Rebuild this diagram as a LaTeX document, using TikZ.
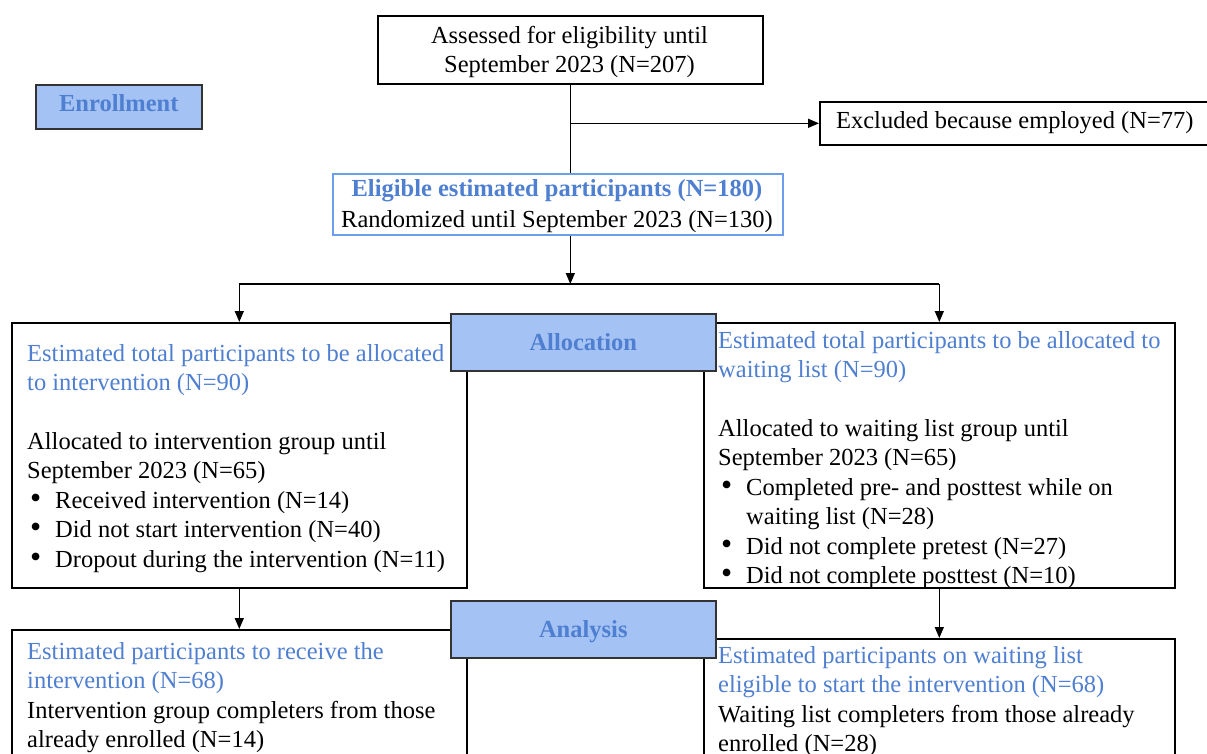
\documentclass[tikz,border=0pt]{standalone}
\usepackage{fontspec}
\setmainfont{Liberation Serif}
\usetikzlibrary{arrows.meta}
\definecolor{txtblue}{HTML}{4F7FD0}
\definecolor{fillblue}{HTML}{A4C2F4}
\definecolor{edgeblue}{HTML}{6D9EEB}
\tikzset{
  box/.style={draw=black, line width=1.6pt, inner sep=0pt, anchor=north west, fill=white},
  bluebox/.style={box, draw=edgeblue},
  labelbox/.style={draw=black!80, line width=1.6pt, inner sep=0pt, anchor=north west, fill=fillblue},
  txt/.style={inner sep=0pt, anchor=north west, align=left, font=\fontsize{24.5}{29.4}\selectfont},
  ctxt/.style={inner sep=0pt, align=center, font=\fontsize{24.5}{29}\selectfont},
  head/.style={inner sep=0pt, font=\fontsize{24.5}{29}\selectfont\bfseries, text=txtblue},
  conn/.style={line width=1.4pt},
  arr/.style={conn, -{Triangle[length=11pt,width=9pt]}}
}
\newcommand{\bul}{\hspace*{3pt}\makebox[25pt][l]{\scalebox{1.3}{\textbullet}}}
\begin{document}
\begin{tikzpicture}[x=1pt,y=-1pt]
\clip (0,0) rectangle (1207,753);
\fill[white] (0,0) rectangle (1207,753);
% enrollment
\node[box, minimum width=385, minimum height=68] (assess) at (377,15) {};
\node[ctxt] (assesst) at (569.5,52) {Assessed for eligibility until\\September 2023 (N=207)};
\node[labelbox, minimum width=166, minimum height=44] (enroll) at (35,84) {};
\node[head] (enrollt) at ([yshift=4pt]enroll.center) {Enrollment};
\node[box, minimum width=390, minimum height=43] (excl) at (819,101) {};
\node[ctxt] (exclt) at ([yshift=1]excl.center) {Excluded because employed (N=77)};
\node[bluebox, minimum width=450, minimum height=61] (elig) at (332,173) {};
\node[ctxt] (eligt) at (557,206) {\textbf{\textcolor{txtblue}{Eligible estimated participants (N=180)}}\\[2pt]Randomized until September 2023 (N=130)};
\coordinate (branch) at (assess.south |- excl.west);
\draw[conn] (assess.south) -- (assess.south |- elig.north);
\draw[arr] (branch) -- (excl.west);
% allocation
\node[box, minimum width=455, minimum height=265] (lalloc) at (11,322) {};
\node[box, minimum width=471, minimum height=265] (ralloc) at (703,322) {};
\coordinate (split) at (assess.south |- 0,284);
\draw[arr] (assess.south |- elig.south) -- (split);
\draw[conn] (lalloc.north |- split) -- (ralloc.north |- split);
\draw[arr] (lalloc.north |- split) -- (lalloc.north);
\draw[arr] (ralloc.north |- split) -- (ralloc.north);
\node[txt] (lalloct) at (27,344) {\textcolor{txtblue}{Estimated total participants to be allocated}\\\textcolor{txtblue}{to intervention (N=90)}\\[29.4pt]Allocated to intervention group until\\September 2023 (N=65)\\\bul Received intervention (N=14)\\\bul Did not start intervention (N=40)\\\bul Dropout during the intervention (N=11)};
\node[txt] (ralloct) at (718,331) {\textcolor{txtblue}{Estimated total participants to be allocated to}\\\textcolor{txtblue}{waiting list (N=90)}\\[29.4pt]Allocated to waiting list group until\\September 2023 (N=65)\\\bul Completed pre- and posttest while on\\\hspace*{28pt}waiting list (N=28)\\\bul Did not complete pretest (N=27)\\\bul Did not complete posttest (N=10)};
\node[labelbox, minimum width=265, minimum height=57] (alloc) at (450,313) {};
\node[head] (alloct) at (alloc.center) {Allocation};
% analysis
\node[box, minimum width=455, minimum height=140] (lanal) at (11,629) {};
\node[box, minimum width=471, minimum height=130] (ranal) at (703,638) {};
\draw[arr] (lalloc.south) -- (lanal.north);
\draw[arr] (ralloc.south) -- (ranal.north);
\node[txt] (lanalt) at (27,642) {\textcolor{txtblue}{Estimated participants to receive the}\\\textcolor{txtblue}{intervention (N=68)}\\Intervention group completers from those\\already enrolled (N=14)};
\node[txt] (ranalt) at (718,646) {\textcolor{txtblue}{Estimated participants on waiting list}\\\textcolor{txtblue}{eligible to start the intervention (N=68)}\\Waiting list completers from those already\\enrolled (N=28)};
\node[labelbox, minimum width=265, minimum height=57] (anal) at (450,600) {};
\node[head] (analt) at ([yshift=-2pt]anal.center) {Analysis};
\end{tikzpicture}
\end{document}
